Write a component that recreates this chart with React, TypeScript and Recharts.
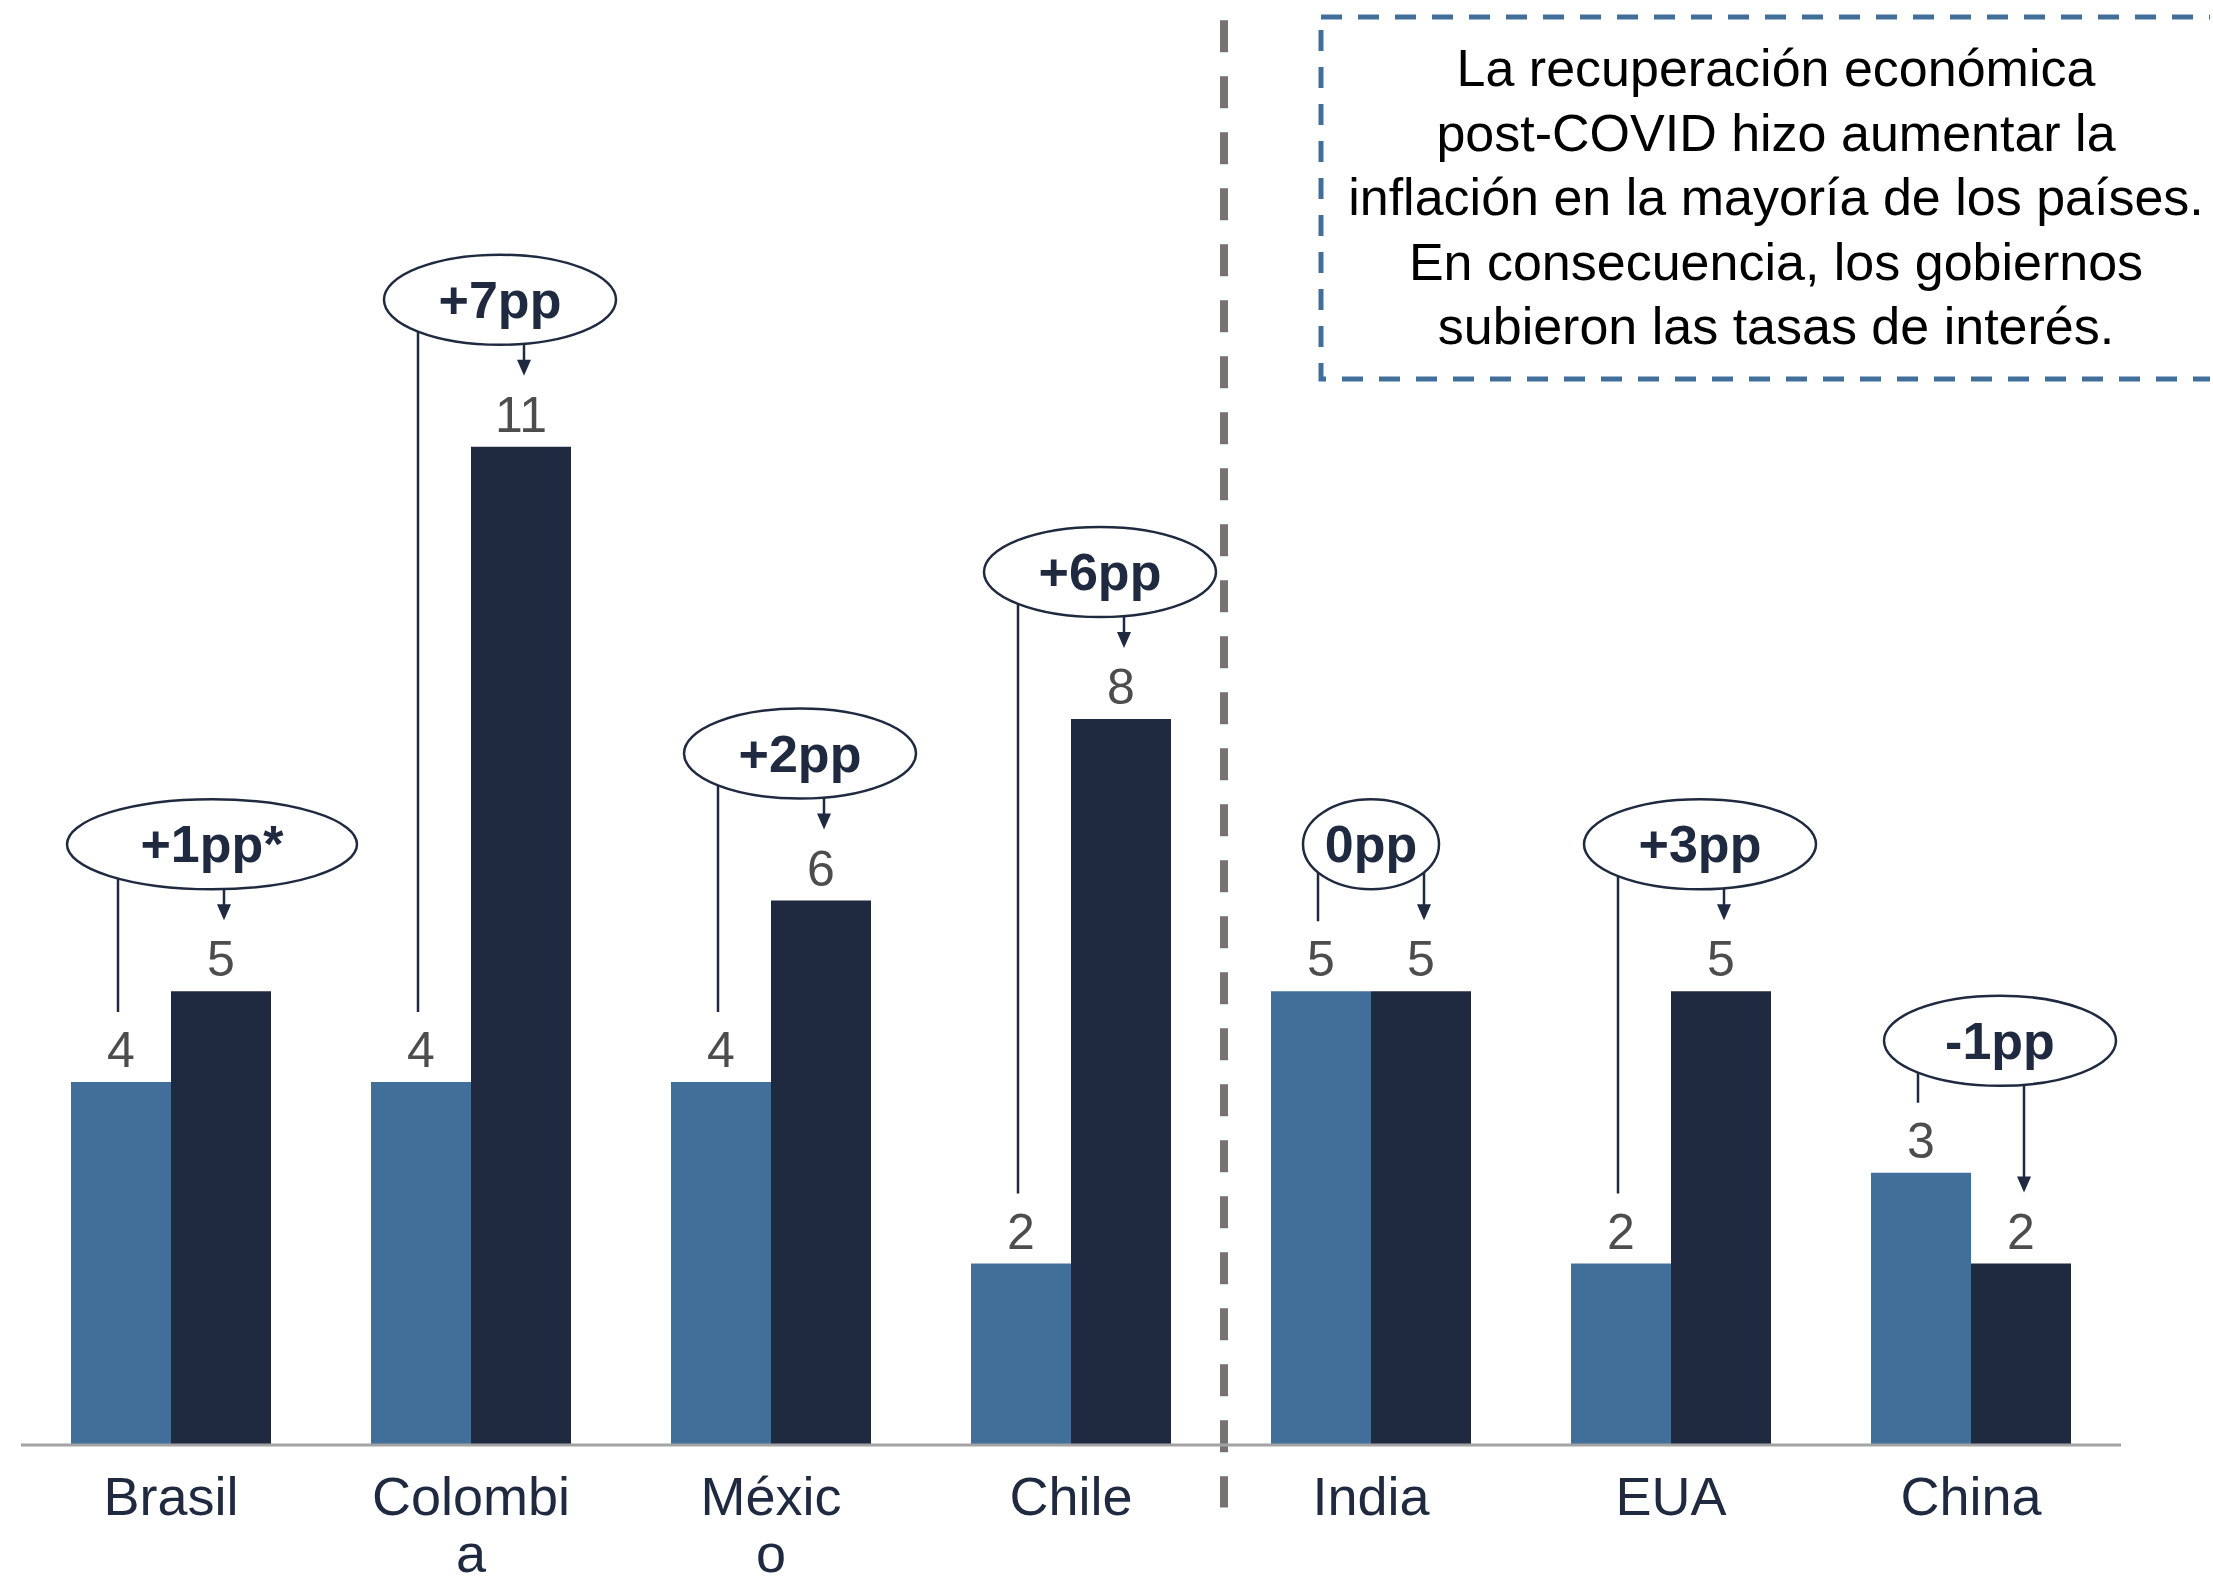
import React from 'react';
import { BarChart, Bar, XAxis, YAxis, LabelList, ReferenceLine } from 'recharts';

// inflación (%) antes y después, por país
const categories = ['Brasil', 'Colombia', 'México', 'Chile', 'India', 'EUA', 'China'];
const tickLines = [['Brasil'], ['Colombi', 'a'], ['Méxic', 'o'], ['Chile'], ['India'], ['EUA'], ['China']];
const before = [4, 4, 4, 2, 5, 2, 3];
const after = [5, 11, 6, 8, 5, 5, 2];
const changes = ['+1pp*', '+7pp', '+2pp', '+6pp', '0pp', '+3pp', '-1pp'];
const noteLines = [
    'La recuperación económica',
    'post-COVID hizo aumentar la',
    'inflación en la mayoría de los países.',
    'En consecuencia, los gobiernos',
    'subieron las tasas de interés.',
];

const data = categories.map((name, i) => ({
    name,
    before: before[i],
    after: after[i],
    change: changes[i],
}));

const FONT = '"Liberation Sans", Arial, Helvetica, sans-serif';
const LIGHT = '#426f99';
const DARK = '#1f2a40';
const W = 2210;
const H = 1574;

const CountryTick = (props: any) => {
    const { x, y, payload } = props;
    const idx = categories.indexOf(payload.value);
    const lines = idx >= 0 ? tickLines[idx] : [payload.value];
    return (
        <g>
            {lines.map((line: string, k: number) => (
                <text
                    key={k}
                    x={x}
                    y={y + 70 + k * 57}
                    textAnchor="middle"
                    fontFamily={FONT}
                    fontSize={54}
                    fill={DARK}
                >
                    {line}
                </text>
            ))}
        </g>
    );
};

// ellipse with the change, line to the first bar and arrow to the second
const ChangeBubble = (props: any) => {
    const vb = props.viewBox ?? props;
    const { x, y, width, height } = vb;
    const i = changes.indexOf(String(props.value));
    if (i < 0 || !height) return null;
    const base = y + height;
    const unit = height / after[i];
    const topAfter = y;
    const topBefore = base - before[i] * unit;
    const groupCenter = x;
    const beforeCenter = x - width / 2;
    const afterCenter = x + width / 2;
    const label = changes[i];
    const len = label.length;
    const rx = len <= 3 ? 68 : len === 4 ? 116 : 145;
    const ry = 45;
    const cx = len <= 3 ? groupCenter : groupCenter + (len === 5 ? 41 : 29);
    const cy = Math.min(topAfter - 147, topBefore - 132);
    const edge = (px: number) => {
        const d = (px - cx) / rx;
        return cy + ry * Math.sqrt(Math.max(0, 1 - d * d));
    };
    const lx = beforeCenter - 3;
    const ax = afterCenter + 3;
    const tip = topAfter - 71;
    return (
        <g>
            <line x1={lx} y1={edge(lx)} x2={lx} y2={topBefore - 70} stroke={DARK} strokeWidth={2.5} />
            <line x1={ax} y1={edge(ax)} x2={ax} y2={tip - 12} stroke={DARK} strokeWidth={2.5} />
            <polygon points={`${ax - 7},${tip - 16} ${ax + 7},${tip - 16} ${ax},${tip}`} fill={DARK} />
            <ellipse cx={cx} cy={cy} rx={rx} ry={ry} fill="#fff" stroke={DARK} strokeWidth={2.5} />
            <text x={cx} y={cy + 18} textAnchor="middle" fontFamily={FONT} fontSize={52} fontWeight="bold" fill={DARK}>
                {label}
            </text>
        </g>
    );
};

const App: React.FC = () => {
    return (
        <div style={{ position: 'absolute', left: 0, top: 0, width: W, height: H, background: '#fff' }}>
            <BarChart
                width={W}
                height={H}
                data={data}
                margin={{ top: 356, right: 89, left: 21, bottom: 0 }}
                barCategoryGap={50}
                barGap={0}
            >
                <YAxis hide domain={[0, 12]} />
                <XAxis
                    dataKey="name"
                    height={129}
                    interval={0}
                    tickLine={false}
                    tickSize={0}
                    tickMargin={0}
                    axisLine={{ stroke: '#a3a3a3', strokeWidth: 3 }}
                    tick={<CountryTick />}
                />
                <ReferenceLine
                    segment={[
                        { x: 'India', y: 15.7 },
                        { x: 'India', y: -0.69 },
                    ]}
                    position="start"
                    ifOverflow="visible"
                    stroke="#777371"
                    strokeWidth={8}
                    strokeDasharray="32 24"
                    transform="translate(3,0)"
                />
                <Bar dataKey="before" fill={LIGHT} isAnimationActive={false}>
                    <LabelList dataKey="before" position="top" offset={15} fill="#4d4d4d" fontSize={50} fontFamily={FONT} />
                </Bar>
                <Bar dataKey="after" fill={DARK} isAnimationActive={false}>
                    <LabelList dataKey="after" position="top" offset={15} fill="#4d4d4d" fontSize={50} fontFamily={FONT} />
                    <LabelList dataKey="change" content={<ChangeBubble />} />
                </Bar>
            </BarChart>
            <svg width={W} height={400} style={{ position: 'absolute', left: 0, top: 0 }}>
                <rect
                    x={1321}
                    y={17}
                    width={950}
                    height={362}
                    fill="none"
                    stroke={LIGHT}
                    strokeWidth={5}
                    strokeDasharray="21 16"
                />
                {noteLines.map((line, k) => (
                    <text key={k} x={1776} y={86 + k * 64.5} textAnchor="middle" fontFamily={FONT} fontSize={52} fill="#000">
                        {line}
                    </text>
                ))}
            </svg>
        </div>
    );
};

export default App;
